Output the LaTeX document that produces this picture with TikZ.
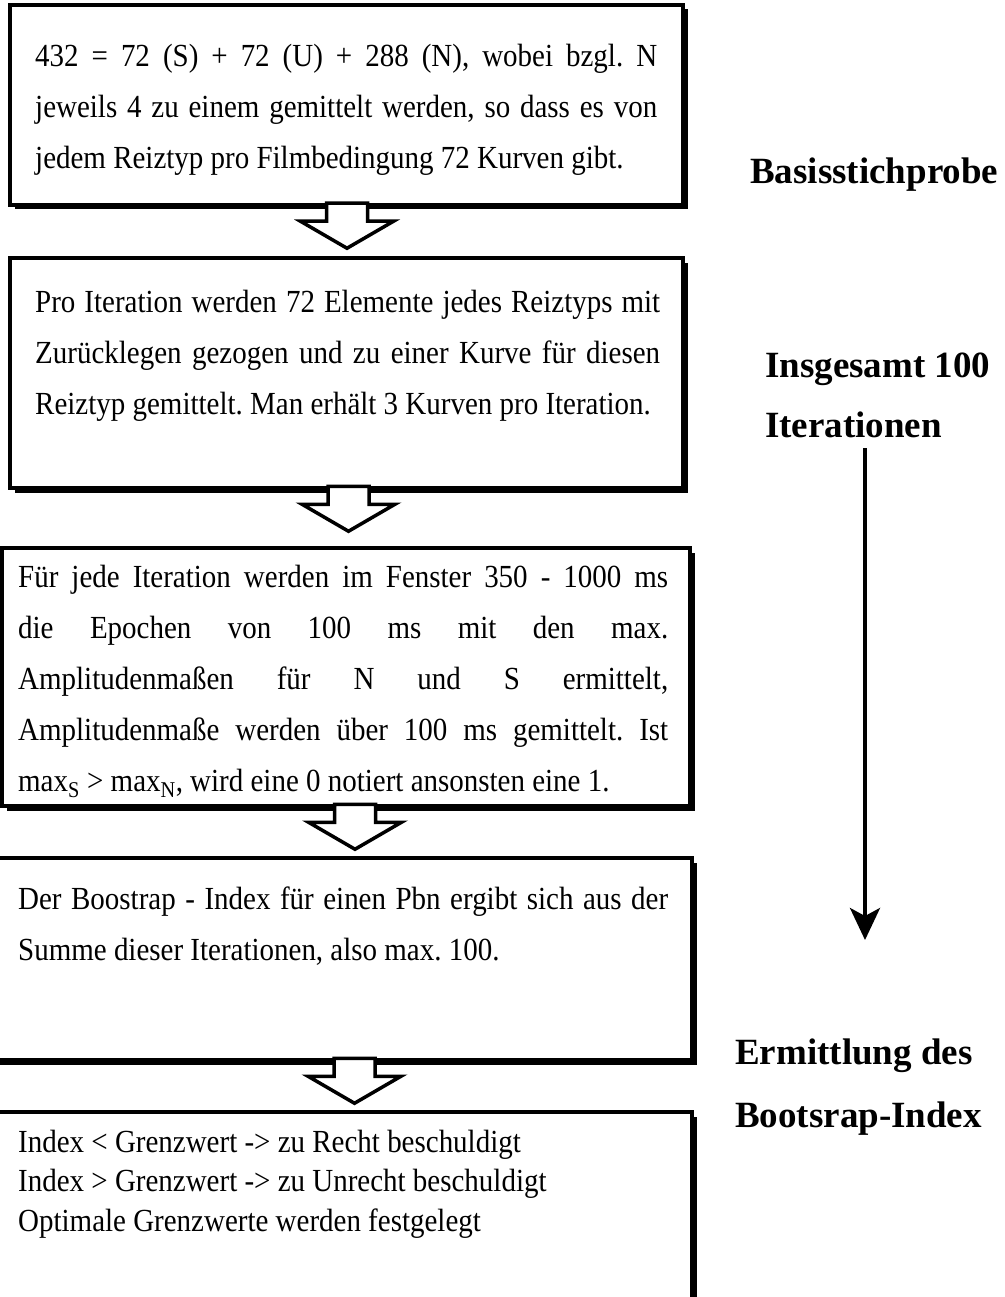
\documentclass[tikz,border=0pt]{standalone}
\usepackage{fontspec}
\setmainfont{Liberation Serif}
\newfontfamily\bodyfamily{Liberation Serif}[FakeStretch=0.9]
\usetikzlibrary{arrows.meta,shadows}
\tikzset{
  flowbox/.style={draw, line width=3.5pt, fill=white, rectangle, inner sep=0pt, outer sep=0pt,
    anchor=north west,
    drop shadow={shadow xshift=4.5pt, shadow yshift=-4.5pt, fill=black, opacity=1}},
  boxtext/.style={anchor=base west, inner sep=0pt},
  sidelabel/.style={anchor=base west, inner sep=0pt, font=\fontsize{37}{44}\selectfont\bfseries},
  hollowarrow/.style={draw, line width=3.5pt, fill=white, line join=miter},
  iterarrow/.style={line width=4pt, -{Stealth[length=32pt,width=30pt,inset=8pt]}},
}
\newcommand\boxfont{\bodyfamily\fontsize{32.2}{51}\selectfont\frenchspacing}
\newcommand\boxfontsmall{\bodyfamily\fontsize{32.2}{39.5}\selectfont\frenchspacing}
\newcommand\jline[1]{\makebox[\linewidth][s]{#1}}
\newcommand\hollowdown[1]{\draw[hollowarrow] (#1) ++(-20.5,0) -- ++(0,18) -- ++(-26,0) -- ++(46.5,27) -- ++(46.5,-27) -- ++(-26,0) -- ++(0,-18) -- cycle;}

\begin{document}
\begin{tikzpicture}[x=1pt,y=-1pt]
\useasboundingbox (0,0) rectangle (1004,1297);
\clip (0,0) rectangle (1004,1297);

% boxes
\node[flowbox, minimum width=673pt, minimum height=200pt] (b1) at (10,5) {};
\node[flowbox, minimum width=673pt, minimum height=230pt] (b2) at (10,258) {};
\node[flowbox, minimum width=688pt, minimum height=258pt] (b3) at (2,548) {};
\node[flowbox, minimum width=697pt, minimum height=202pt] (b4) at (-5,858) {};
\node[flowbox, minimum width=697pt, minimum height=230pt] (b5) at (-5,1112) {};

% texts
\node[boxtext] (t1) at (35,67) {\parbox[t]{622pt}{\boxfont
\jline{432 = 72 (S) + 72 (U) + 288 (N), wobei bzgl. N}\\
\jline{jeweils 4 zu einem gemittelt werden, so dass es von}\\
jedem Reiztyp pro Filmbedingung 72 Kurven gibt.}};

\node[boxtext] (t2) at (35,312) {\parbox[t]{625pt}{\boxfont
\jline{Pro Iteration werden 72 Elemente jedes Reiztyps mit}\\
\jline{Zurücklegen gezogen und zu einer Kurve für diesen}\\
Reiztyp gemittelt. Man erhält 3 Kurven pro Iteration.}};

\node[boxtext] (t3) at (18,587) {\parbox[t]{650pt}{\boxfont
\jline{Für jede Iteration werden im Fenster 350 - 1000 ms}\\
\jline{die Epochen von 100 ms mit den max.}\\
\jline{Amplitudenmaßen für N und S ermittelt,}\\
\jline{Amplitudenmaße werden über 100 ms gemittelt. Ist}\\
max\textsubscript{S} > max\textsubscript{N}, wird eine 0 notiert ansonsten eine 1.}};

\node[boxtext] (t4) at (18,909) {\parbox[t]{650pt}{\boxfont
\jline{Der Boostrap - Index für einen Pbn ergibt sich aus der}\\
Summe dieser Iterationen, also max. 100.}};

\node[boxtext] (t5) at (18,1152) {\parbox[t]{650pt}{\boxfontsmall
Index < Grenzwert -> zu Recht beschuldigt\\
Index > Grenzwert -> zu Unrecht beschuldigt\\
Optimale Grenzwerte werden festgelegt}};

% hollow arrows between boxes
\path ([xshift=0.5pt,yshift=1.75pt]b1.south) coordinate (a1);
\path ([xshift=2pt,yshift=1.75pt]b2.south) coordinate (a2);
\path ([xshift=9pt,yshift=1.75pt]b3.south) coordinate (a3);
\path ([xshift=11pt,yshift=1.75pt]b4.south) coordinate (a4);
\hollowdown{a1}
\hollowdown{a2}
\hollowdown{a3}
\hollowdown{a4}

% side labels
\node[sidelabel] (l1) at (750,184) {Basisstichprobe};
\node[sidelabel] (l2) at (765,377) {Insgesamt 100};
\node[sidelabel] (l3) at (765,437) {Iterationen};
\node[sidelabel] (l4) at (735,1064) {Ermittlung des};
\node[sidelabel] (l5) at (735,1127) {Bootsrap-Index};

\coordinate (v1) at (865,448);
\coordinate (v2) at (865,940);
\draw[iterarrow] (v1) -- (v2);
\end{tikzpicture}
\end{document}
